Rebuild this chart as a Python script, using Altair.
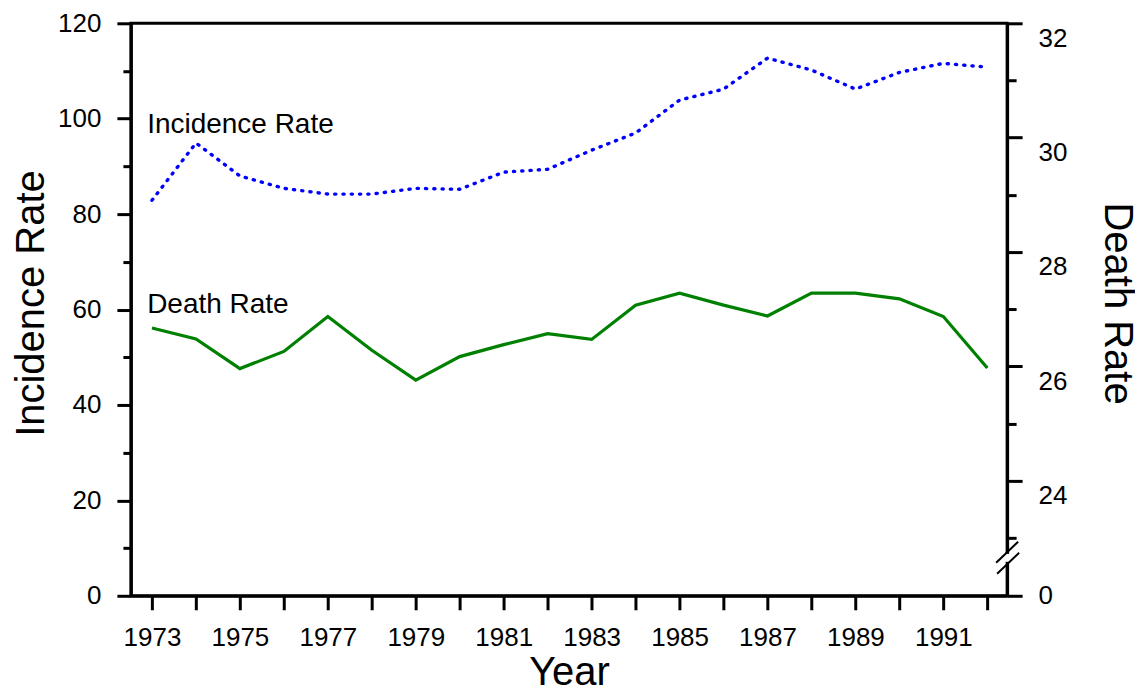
import altair as alt
import pandas as pd

# ---- data ----
years = list(range(1973, 1993))
incidence = [82.9, 94.9, 88.0, 85.4, 84.2, 84.2, 85.4, 85.2, 88.8, 89.4,
             93.4, 97.0, 103.9, 106.2, 112.7, 110.2, 106.2, 109.7, 111.6, 110.8]
death = [26.67, 26.48, 25.96, 26.26, 26.87, 26.28, 25.76, 26.17, 26.38, 26.57,
         26.47, 27.07, 27.28, 27.07, 26.88, 27.28, 27.28, 27.18, 26.87, 25.97]

label_text = ["Incidence Rate", "Death Rate"]
label_year = [1972.89, 1972.89]
label_value = [97.0, 59.3]

left_ticks = list(range(0, 121, 10))
right_ticks = [0] + list(range(23, 33))

df = pd.DataFrame({"Year": years, "Incidence": incidence, "Death": death})
lab = pd.DataFrame({"Year": label_year, "Incidence": label_value, "text": label_text})

FONT = "Liberation Sans"
W, H = 877, 573

xscale = alt.Scale(domain=[1972.52, 1992.45], nice=False, zero=False)
xaxis = alt.Axis(values=years, format="d", title="Year",
                 labelExpr="datum.value % 2 == 1 ? datum.label : ''",
                 tickSize=14, labelPadding=15, labelFlush=False, labelOverlap=False,
                 titleBaseline="alphabetic", titleY=89)

yleft_scale = alt.Scale(domain=[0, 120], nice=False, zero=True)
yleft_axis = alt.Axis(values=left_ticks, title="Incidence Rate", orient="left",
                      labelExpr="datum.value % 20 == 0 ? datum.label : ''",
                      tickSize={"condition": {"test": "datum.value % 20 == 0", "value": 14}, "value": 8},
                      labelPadding=16, labelOverlap=False,
                      titleAngle=270, titleAlign="center", titleBaseline="alphabetic",
                      titleX=-87, titleY=280)

inc_line = alt.Chart(df).mark_line(
    color="#0000FF", strokeWidth=3.4, strokeDash=[1.2, 7.1], strokeCap="round"
).encode(
    x=alt.X("Year:Q", scale=xscale, axis=xaxis),
    y=alt.Y("Incidence:Q", scale=yleft_scale, axis=yleft_axis),
)

labels = alt.Chart(lab).mark_text(
    align="left", baseline="alphabetic", fontSize=28, font=FONT, color="black"
).encode(
    x=alt.X("Year:Q", scale=xscale, axis=xaxis),
    y=alt.Y("Incidence:Q", scale=yleft_scale, axis=yleft_axis),
    text="text:N",
)

# axis break decoration on the right axis
brk = pd.DataFrame({"k": [0]})
gap = alt.Chart(brk).mark_rule(color="white", strokeWidth=6).encode(
    x=alt.value(W), y=alt.value(531), y2=alt.value(539))
slash1 = alt.Chart(brk).mark_rule(color="black", strokeWidth=2).encode(
    x=alt.value(866), x2=alt.value(888), y=alt.value(540), y2=alt.value(519))
slash2 = alt.Chart(brk).mark_rule(color="black", strokeWidth=2).encode(
    x=alt.value(867), x2=alt.value(889), y=alt.value(551), y2=alt.value(530))

left_group = alt.layer(inc_line, labels)

death_line = alt.Chart(df).mark_line(color="#008000", strokeWidth=3.2).encode(
    x=alt.X("Year:Q", scale=xscale, axis=xaxis),
    y=alt.Y("Death:Q",
            scale=alt.Scale(domain=[0, 23, 32], range=[H, 515, 0], nice=False, zero=False),
            axis=alt.Axis(values=right_ticks, orient="right", title="Death Rate",
                          labelExpr="(datum.value == 0 || (datum.value >= 24 && datum.value % 2 == 0)) ? datum.label : ''",
                          tickSize={"condition": {"test": "datum.value % 2 == 0", "value": 15}, "value": 9},
                          labelOffset={"condition": {"test": "datum.value == 0", "value": 0}, "value": 15},
                          labelPadding=16, labelOverlap=False,
                          titleAngle=90, titleAlign="center", titleBaseline="alphabetic",
                          titleX=97, titleY=280)),
)

chart = alt.layer(left_group, death_line, gap, slash1, slash2).resolve_scale(
    y="independent"
).properties(
    width=W, height=H,
    autosize=alt.AutoSizeParams(type="none"),
    padding={"left": 123, "top": 15, "right": 128, "bottom": 92},
).configure_view(
    stroke="black", strokeWidth=3
).configure_axis(
    grid=False, domainColor="black", domainWidth=3, tickColor="black", tickWidth=3,
    labelFont=FONT, labelFontSize=26, labelColor="black",
    titleFont=FONT, titleFontSize=40, titleFontWeight="normal", titleColor="black",
)

chart.save("out.html", embed_options={"renderer": "svg", "actions": False})
